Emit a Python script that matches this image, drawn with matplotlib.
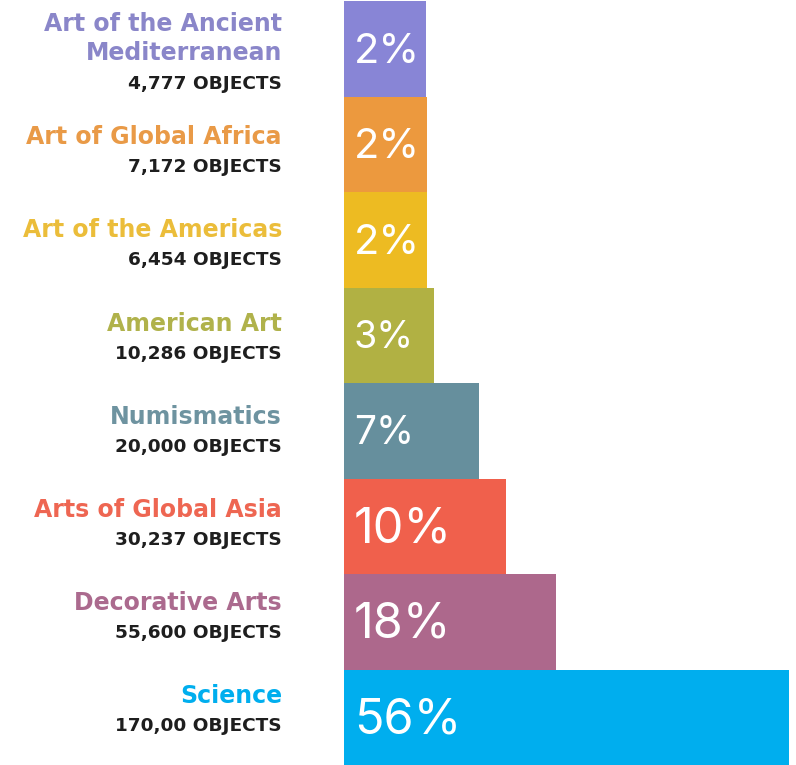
import matplotlib
matplotlib.use("Agg")
import matplotlib.pyplot as plt

categories = ["Art of the Ancient\nMediterranean", "Art of Global Africa", "Art of the Americas",
              "American Art", "Numismatics", "Arts of Global Asia", "Decorative Arts", "Science"]
object_labels = ["4,777 OBJECTS", "7,172 OBJECTS", "6,454 OBJECTS", "10,286 OBJECTS",
                 "20,000 OBJECTS", "30,237 OBJECTS", "55,600 OBJECTS", "170,00 OBJECTS"]
percent_labels = ["2%", "2%", "2%", "3%", "7%", "10%", "18%", "56%"]
bar_lengths = [82, 83, 83, 90, 135, 162, 212, 445]
colors = ["#8885D6", "#EC993E", "#EDBB22", "#B1B143", "#668F9D", "#F0604C", "#AD688C", "#00AEEE"]
text_colors = ["#8A86C9", "#E99A47", "#EBBD3A", "#B0B24B", "#6E93A0", "#EE6652", "#AB6A8E", "#00AEEE"]
pct_sizes = [30, 30, 30, 27, 28, 35, 35, 35]

W, H = 796, 765
fig = plt.figure(figsize=(W / 100, H / 100), dpi=100)
ax = fig.add_axes([344 / W, 0, (W - 344) / W, 764 / H])
ax.set_xlim(0, W - 344)
ax.set_ylim(len(categories) - 0.5, -0.5)
ax.axis("off")

ypos = list(range(len(categories)))
ax.barh(ypos, bar_lengths, height=1.0, color=colors, align="center", linewidth=0)

px = 0.72  # points per pixel
label_font = "DejaVu Sans"
pct_font = "Inter"
for i, (name, cnt, pct) in enumerate(zip(categories, object_labels, percent_labels)):
    lines = name.split("\n")
    if len(lines) > 1:
        base = 11
        cnt_base = 40
    else:
        base = -2.3 * (i - 1)
        cnt_base = base + 28
    for k, line in enumerate(reversed(lines)):
        ax.annotate(line, xy=(0, i), xytext=(-62 * px, -(base - 29 * k) * px), textcoords="offset points",
                    ha="right", va="baseline", fontsize=17, fontweight="bold", color=text_colors[i],
                    family=label_font)
    ax.annotate(cnt, xy=(0, i), xytext=(-62 * px, -cnt_base * px), textcoords="offset points",
                ha="right", va="baseline", fontsize=13.3, fontweight="bold", color="#1E1E1E",
                family=label_font)
    ax.annotate(pct, xy=(0, i), xytext=(10 * px, -3 * px), textcoords="offset points",
                ha="left", va="center", fontsize=pct_sizes[i], fontweight="normal", color="white",
                family=pct_font)

fig.savefig("out.png", dpi=100)
